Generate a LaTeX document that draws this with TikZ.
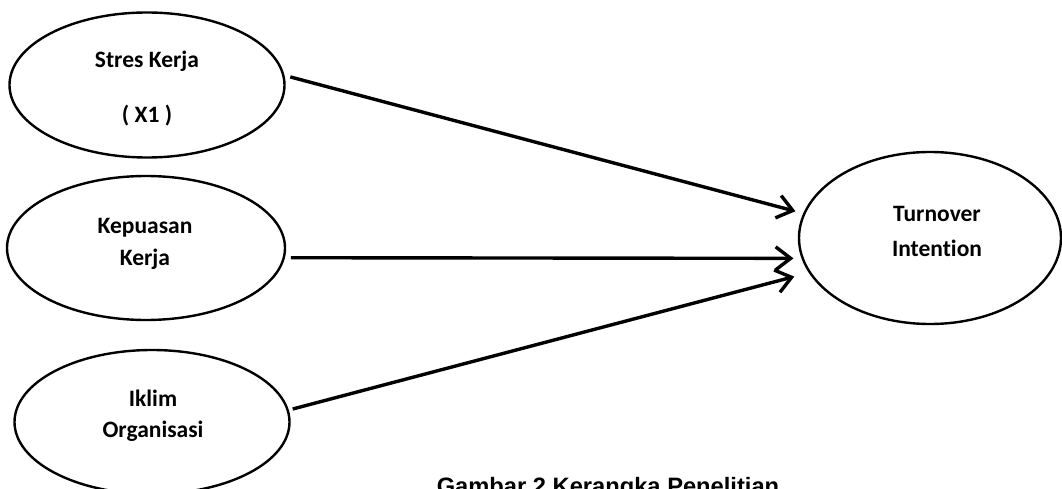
\documentclass[tikz,border=0pt]{standalone}
\usepackage{fontspec}
\setmainfont{Carlito}[Ligatures=NoCommon]
\newfontfamily\arialfont{Liberation Sans}
\usetikzlibrary{shapes.geometric,arrows.meta}
\begin{document}
\begin{tikzpicture}[x=1pt,y=-1pt,
  ell/.style={draw,ellipse,line width=2.4pt,inner sep=0pt},
  lbl/.style={font=\fontsize{23.5}{28}\selectfont\bfseries,anchor=base,inner sep=0pt},
  arr/.style={line width=3.4pt,-{Straight Barb[length=15pt,width=23pt,line width=3.4pt]}}]
\clip (0,0) rectangle (1062,489);
\useasboundingbox (0,0) rectangle (1062,489);
\fill[white] (0,0) rectangle (1062,489);
% ellipses
\node[ell,minimum width=275pt,minimum height=145pt] (s1) at (147,85) {};
\node[ell,minimum width=278pt,minimum height=144pt] (s2) at (146,248) {};
\node[ell,minimum width=275pt,minimum height=144pt] (s3) at (152,422) {};
\node[ell,minimum width=262pt,minimum height=172pt] (t) at (930,238) {};
% labels
\node[lbl] (s1a) at (147,68) {Stres Kerja};
\node[lbl] (s1b) at (147,123) {( X1 )};
\node[lbl] (s2a) at (145,233) {Kepuasan};
\node[lbl] (s2b) at (145,265) {Kerja};
\node[lbl] (s3a) at (153,406) {Iklim};
\node[lbl] (s3b) at (153,437) {Organisasi};
\node[lbl] (ta) at (937,222) {Turnover};
\node[lbl] (tb) at (937,256) {Intention};
% arrows
\draw[arr,shorten <=6pt,shorten >=8pt] (s1.4) -- (t.169.5);
\draw[arr,shorten <=6pt,shorten >=8pt] (s2.-4.4) -- (t.189.3);
\draw[arr,shorten <=4pt,shorten >=15pt] (s3.5.8) -- (t.196.1);
% caption
\node[font=\arialfont\fontsize{23.7}{28}\selectfont\bfseries,anchor=base,inner sep=0pt] (cap) at (608,494) {Gambar 2 Kerangka Penelitian};
\end{tikzpicture}
\end{document}
